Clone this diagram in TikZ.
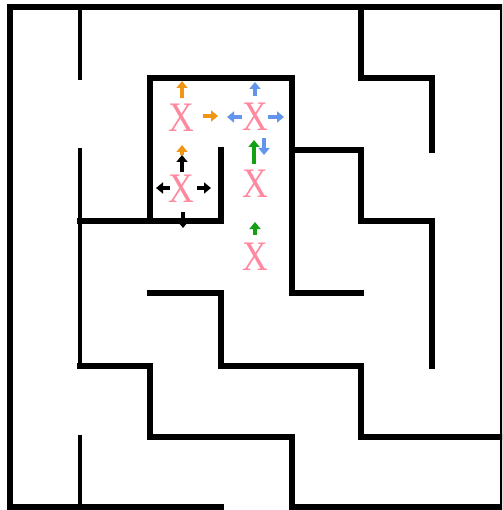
\documentclass[tikz,border=0pt]{standalone}
\usepackage{fontspec}
\setmainfont{Liberation Serif}
\usetikzlibrary{arrows.meta}
\definecolor{xred}{RGB}{255,40,80}
\definecolor{aorange}{RGB}{240,150,20}
\definecolor{ablue}{RGB}{100,149,237}
\definecolor{agreen}{RGB}{20,160,20}
\begin{document}
\begin{tikzpicture}[x=1pt,y=-1pt,
  wall/.style={line width=5.5pt, line cap=rect, line join=miter},
  thinwall/.style={line width=4.2pt, line cap=rect, line join=miter},
  xmarker/.style={text=xred, text opacity=0.55, font=\fontsize{42}{42}\selectfont, inner sep=0pt, anchor=center},
  arr/.style={line width=3.4pt, -{Triangle[width=11pt,length=7pt]}},
]
\fill[white] (0,0) rectangle (502,510);
\useasboundingbox (0,0) rectangle (502,510);
\clip (0,0) rectangle (502,510);
% outer walls
\draw[wall, line width=6pt] (221,507) -- (10,507) -- (10,7) -- (503,7) -- (503,507) -- (292,507) -- (292,437) -- (150,437) -- (150,366) -- (80,366);
\draw[thinwall] (80,366) -- (80,150);
\draw[thinwall] (80,7) -- (80,78);
\draw[thinwall] (80,437) -- (80,507);
% inner walls
\draw[wall] (361,7) -- (361,78) -- (432,78) -- (432,150);
\draw[wall] (80,221) -- (221,221) -- (221,150);
\draw[wall] (150,221) -- (150,78) -- (292,78) -- (292,293) -- (361,293);
\draw[wall] (292,150) -- (361,150) -- (361,221) -- (432,221) -- (432,366);
\draw[wall] (150,293) -- (221,293) -- (221,366) -- (361,366) -- (361,437) -- (503,437);
% X markers
\node[xmarker] (x1) at (181,118) {\scalebox{0.85}[1]{X}};
\node[xmarker] (x2) at (255,117) {\scalebox{0.85}[1]{X}};
\node[xmarker] (x3) at (181,189) {\scalebox{0.85}[1]{X}};
\node[xmarker] (x4) at (255,184) {\scalebox{0.85}[1]{X}};
\node[xmarker] (x5) at (255,257) {\scalebox{0.85}[1]{X}};
% orange arrows
\draw[arr, aorange] (182,98) -- (182,81);
\draw[arr, aorange] (203,116) -- (218,116);
\draw[arr, aorange] (182,155) -- (182,145);
% blue arrows
\draw[arr, ablue] (255,96) -- (255,82);
\draw[arr, ablue] (242,117) -- (227,117);
\draw[arr, ablue] (268,117) -- (284,117);
\draw[arr, ablue] (264,138) -- (264,155);
% green arrows
\draw[arr, agreen] (254,164) -- (254,140);
\draw[arr, agreen] (255,235) -- (255,222);
% black arrows
\draw[arr, black] (182,172) -- (182,155);
\draw[arr, black] (170,188) -- (156,188);
\draw[arr, black] (197,188) -- (211,188);
\draw[arr, black] (183,212) -- (183,228);
\end{tikzpicture}
\end{document}
